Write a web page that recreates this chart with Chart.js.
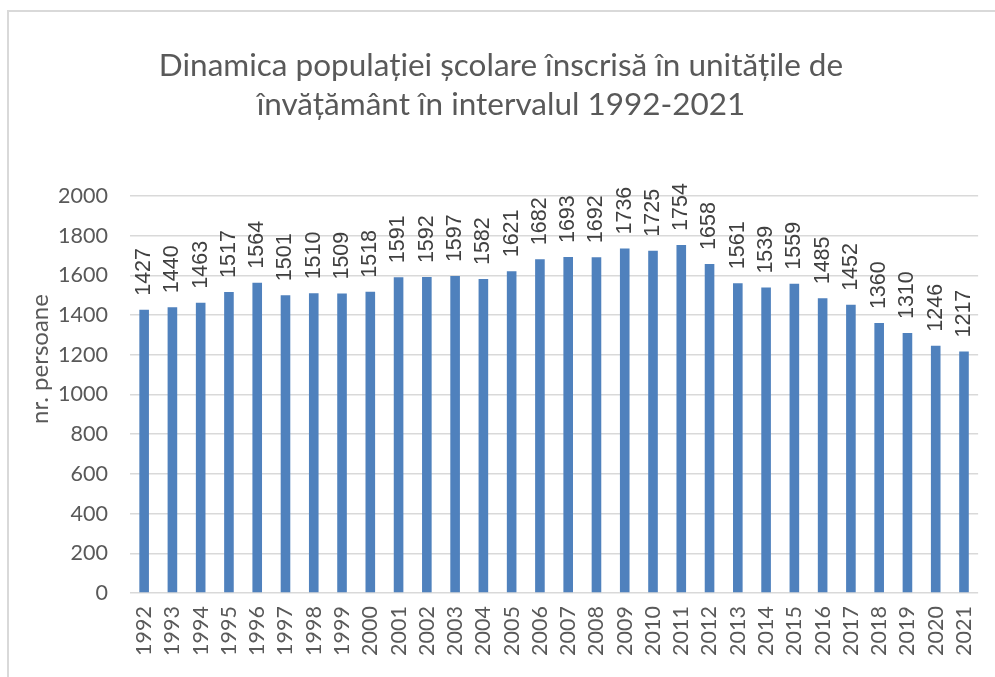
<!DOCTYPE html>
<html>
<head>
<meta charset="utf-8">
<script src="https://cdn.jsdelivr.net/npm/chart.js@4"></script>
<style>
  html, body { margin: 0; padding: 0; background: #fff; }
  #wrap { position: relative; width: 995px; height: 677px; overflow: hidden; }
  #frame { position: absolute; left: 7px; top: 10px; width: 1100px; height: 800px;
           border-left: 2px solid #d9d9d9; border-top: 2px solid #d9d9d9; }
  canvas { position: absolute; left: 0; top: 0; }
</style>
</head>
<body>
<div id="wrap">
  <div id="frame"></div>
  <canvas id="chart" width="995" height="677"></canvas>
</div>
<script>
const years = ['1992', '1993', '1994', '1995', '1996', '1997', '1998', '1999', '2000', '2001',
    '2002', '2003', '2004', '2005', '2006', '2007', '2008', '2009', '2010', '2011',
    '2012', '2013', '2014', '2015', '2016', '2017', '2018', '2019', '2020', '2021'];
const pupils = [1427, 1440, 1463, 1517, 1564, 1501, 1510, 1509, 1518, 1591,
    1592, 1597, 1582, 1621, 1682, 1693, 1692, 1736, 1725, 1754,
    1658, 1561, 1539, 1559, 1485, 1452, 1360, 1310, 1246, 1217];
const titleLines = ['Dinamica populației școlare înscrisă în unitățile de', 'învățământ în intervalul 1992-2021'];
const yTitle = 'nr. persoane';

const textGray = '#595959';
const calibriLike = 'Lato, "Open Sans", sans-serif';

// value labels, rotated, sitting on top of each bar
const barLabels = {
    id: 'barLabels',
    afterDatasetsDraw(chart) {
        const ctx = chart.ctx;
        const meta = chart.getDatasetMeta(0);
        ctx.save();
        ctx.fillStyle = '#404040';
        ctx.font = '21.5px "Liberation Sans", Arial, sans-serif';
        ctx.textAlign = 'left';
        ctx.textBaseline = 'middle';
        meta.data.forEach((bar, i) => {
            ctx.save();
            ctx.translate(bar.x, bar.y - 14);
            ctx.rotate(-Math.PI / 2);
            ctx.fillText(String(pupils[i]), 0, 0);
            ctx.restore();
        });
        ctx.restore();
    }
};

// axis title placed like the original (a bit above the plot centre)
const axisTitle = {
    id: 'axisTitle',
    afterDraw(chart) {
        const ctx = chart.ctx;
        ctx.save();
        ctx.fillStyle = textGray;
        ctx.font = '24px ' + calibriLike;
        ctx.textAlign = 'center';
        ctx.textBaseline = 'middle';
        ctx.translate(40, 359);
        ctx.rotate(-Math.PI / 2);
        ctx.fillText(yTitle, 0, 0);
        ctx.restore();
    }
};

new Chart(document.getElementById('chart').getContext('2d'), {
    type: 'bar',
    data: {
        labels: years,
        datasets: [{
            data: pupils,
            backgroundColor: '#4f81bd',
            borderWidth: 0,
            barPercentage: 0.34,
            categoryPercentage: 1
        }]
    },
    options: {
        responsive: false,
        animation: false,
        layout: { padding: { left: 20, right: 13, top: 0, bottom: 0 } },
        plugins: {
            legend: { display: false },
            tooltip: { enabled: false },
            title: {
                display: true,
                text: titleLines,
                color: textGray,
                font: { family: calibriLike, size: 31.5, weight: 'normal', lineHeight: 1.24 },
                padding: { top: 46, bottom: 72 }
            }
        },
        scales: {
            x: {
                grid: { display: false },
                border: { display: false },
                ticks: {
                    color: textGray,
                    font: { family: calibriLike, size: 21.5 },
                    autoSkip: false,
                    minRotation: 90,
                    maxRotation: 90,
                    padding: 5
                },
                afterFit(scale) { scale.height = 84; }
            },
            y: {
                min: 0,
                max: 2000,
                grid: { color: '#d9d9d9', lineWidth: 1.5, drawTicks: false },
                border: { display: false },
                ticks: {
                    stepSize: 200,
                    color: textGray,
                    font: { family: calibriLike, size: 21.5 },
                    padding: 22,
                    callback: (v) => String(v)
                },
                afterFit(scale) { scale.width = 110; }
            }
        }
    },
    plugins: [barLabels, axisTitle]
});
</script>
</body>
</html>
